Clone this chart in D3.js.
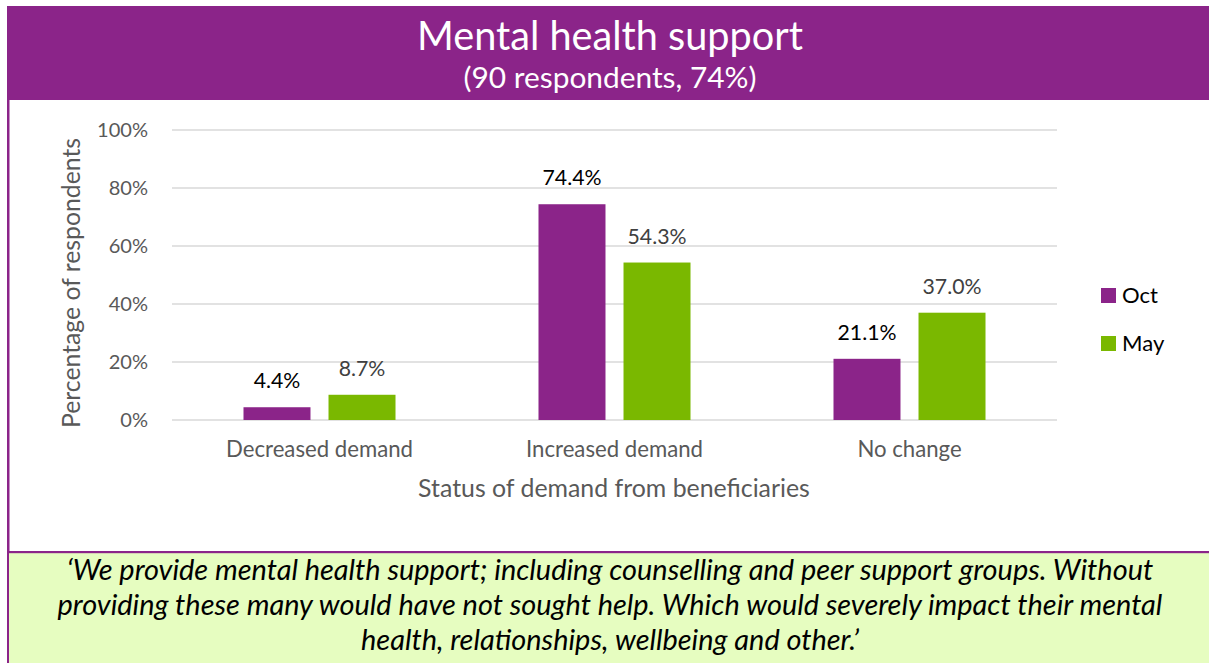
<!DOCTYPE html>
<html>
<head>
<meta charset="utf-8">
<script src="https://cdn.jsdelivr.net/npm/d3@7"></script>
<style>
  html, body { margin: 0; padding: 0; background: #fff; }
  svg { display: block; }
</style>
</head>
<body>
<svg id="chart" width="1209" height="663"></svg>
<script>
// Data
const categories = ["Decreased demand", "Increased demand", "No change"];
const seriesNames = ["Oct", "May"];
const octValues = [4.4, 74.4, 21.1];
const mayValues = [8.7, 54.3, 37.0];
const yTicks = [0, 20, 40, 60, 80, 100];
const titleText = "Mental health support";
const subtitleText = "(90 respondents, 74%)";
const yAxisTitle = "Percentage of respondents";
const xAxisTitle = "Status of demand from beneficiaries";
const quoteLines = [
  "\u2018We provide mental health support; including counselling and peer support groups. Without",
  "providing these many would have not sought help. Which would severely impact their mental",
  "health, relationships, wellbeing and other.\u2019"
];

const purple = "#8B2489";
const green = "#7AB800";
const FONT = "Lato, 'Open Sans', sans-serif";

const svg = d3.select("#chart");

// Scale a text selection's font size so its first node spans the given width
function fitWidth(sel, width) {
  const node = sel.node();
  const fs = parseFloat(sel.attr("font-size"));
  const w = node.getComputedTextLength();
  if (w > 0) sel.attr("font-size", (fs * width / w).toFixed(2));
  return sel;
}

// Panel frame
svg.append("rect").attr("x", 7).attr("y", 6).attr("width", 1202).attr("height", 94).attr("fill", purple);
svg.append("rect").attr("x", 7).attr("y", 100).attr("width", 2.5).attr("height", 563).attr("fill", purple);
svg.append("rect").attr("x", 9).attr("y", 553).attr("width", 1200).attr("height", 110).attr("fill", "#E6FDC0");
svg.append("rect").attr("x", 9).attr("y", 551).attr("width", 1200).attr("height", 2.2).attr("fill", purple);

// Title
fitWidth(svg.append("text").attr("x", 610).attr("y", 50).attr("text-anchor", "middle")
  .attr("font-family", FONT).attr("font-size", 36).attr("fill", "#fff").text(titleText), 386);
fitWidth(svg.append("text").attr("x", 610).attr("y", 88).attr("text-anchor", "middle")
  .attr("font-family", FONT).attr("font-size", 26).attr("fill", "#fff").text(subtitleText), 293);

// Scales
const x0 = d3.scaleBand().domain(categories).range([172, 1057]).padding(0);
const x1 = d3.scaleBand().domain(seriesNames).range([0, x0.bandwidth()])
  .paddingInner(0.212).paddingOuter(0.841);
const y = d3.scaleLinear().domain([0, 100]).range([420, 130]);
const color = d3.scaleOrdinal().domain(seriesNames).range([purple, green]);

// Gridlines
const grid = svg.append("g");
grid.selectAll("line").data(yTicks).join("line")
  .attr("x1", 172).attr("x2", 1057)
  .attr("y1", d => y(d)).attr("y2", d => y(d))
  .attr("stroke", "#D9D9D9").attr("stroke-width", 1.5);

// Y axis labels
const yAxis = d3.axisLeft(y).tickValues(yTicks).tickFormat(d => d + "%").tickSize(0).tickPadding(0);
const yg = svg.append("g").attr("transform", "translate(148,0)").call(yAxis);
yg.select(".domain").remove();
yg.selectAll("text").attr("font-family", FONT).attr("font-size", 20).attr("fill", "#595959");
{
  const t = yg.selectAll("text").filter(d => d === 100);
  fitWidth(t, 51);
  yg.selectAll("text").attr("font-size", t.attr("font-size"));
}

// X axis labels
const xAxis = d3.axisBottom(x0).tickSize(0).tickPadding(0);
const xg = svg.append("g").attr("transform", "translate(0,457)").call(xAxis);
xg.select(".domain").remove();
xg.selectAll("text").attr("y", 0).attr("dy", 0)
  .attr("font-family", FONT).attr("font-size", 20).attr("fill", "#595959");
{
  const t = xg.selectAll("text").filter(d => d === categories[0]);
  fitWidth(t, 187);
  xg.selectAll("text").attr("font-size", t.attr("font-size"));
}

// Axis titles
fitWidth(svg.append("text").attr("transform", "translate(80,283) rotate(-90)").attr("text-anchor", "middle")
  .attr("font-family", FONT).attr("font-size", 22).attr("fill", "#595959").text(yAxisTitle), 290);
fitWidth(svg.append("text").attr("x", 614).attr("y", 497).attr("text-anchor", "middle")
  .attr("font-family", FONT).attr("font-size", 22).attr("fill", "#595959").text(xAxisTitle), 392);

// Bars
const rows = categories.map((c, i) => ({ cat: c, values: [
  { key: "Oct", v: octValues[i] }, { key: "May", v: mayValues[i] } ] }));

const groups = svg.append("g").selectAll("g").data(rows).join("g")
  .attr("transform", d => `translate(${x0(d.cat)},0)`);

groups.selectAll("rect").data(d => d.values).join("rect")
  .attr("x", d => x1(d.key)).attr("width", x1.bandwidth())
  .attr("y", d => y(d.v)).attr("height", d => y(0) - y(d.v))
  .attr("fill", d => color(d.key));

const valueLabels = groups.selectAll("text").data(d => d.values).join("text")
  .attr("x", d => x1(d.key) + x1.bandwidth() / 2)
  .attr("y", d => y(d.v) - 19)
  .attr("text-anchor", "middle")
  .attr("font-family", FONT).attr("font-size", 20)
  .attr("fill", d => d.key === "Oct" ? "#000" : "#404040")
  .text(d => d.v.toFixed(1) + "%");
{
  const t = valueLabels.filter(d => d.v === 74.4);
  fitWidth(t, 59);
  valueLabels.attr("font-size", t.attr("font-size"));
}

// Legend
const legend = svg.append("g").selectAll("g").data(seriesNames).join("g")
  .attr("transform", (d, i) => `translate(1101,${288 + i * 48})`);
legend.append("rect").attr("width", 15).attr("height", 15).attr("fill", d => color(d));
const legendText = legend.append("text").attr("x", 21).attr("y", 15).attr("font-family", FONT).attr("font-size", 22)
  .attr("fill", "#000").text(d => d);
{
  const t = legendText.filter(d => d === "Oct");
  fitWidth(t, 36);
  legendText.attr("font-size", t.attr("font-size"));
}

// Quote
const quote = svg.append("g").selectAll("text").data(quoteLines).join("text")
  .attr("x", 610).attr("y", (d, i) => 580 + i * 35)
  .attr("text-anchor", "middle").attr("font-family", FONT).attr("font-style", "italic")
  .attr("font-size", 24).attr("fill", "#000").text(d => d);
{
  const t = quote.filter((d, i) => i === 0);
  fitWidth(t, 1087);
  quote.attr("font-size", t.attr("font-size"));
}
</script>
</body>
</html>
